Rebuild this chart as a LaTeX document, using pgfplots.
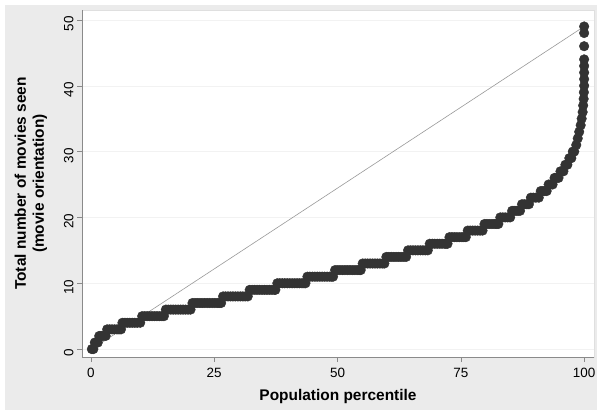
\documentclass[border=0pt]{standalone}
\usepackage{pgfplots}
\pgfplotsset{compat=1.18}
\usepackage{fontspec}
\setmainfont{Liberation Sans}
\definecolor{bggray}{HTML}{EBEBEB}
\definecolor{dots}{HTML}{333333}
\definecolor{axgray}{HTML}{8A8A8A}

\begin{document}
\begin{tikzpicture}[x=1bp,y=1bp]
% page background: thin white margin, light grey panel
\fill[white] (-82,-58) rectangle (520,357);
\fill[bggray] (-77,-53) rectangle (515,352);
\begin{axis}[
  at={(0,0)}, anchor=south west,
  width=512bp, height=347bp, scale only axis,
  xmin=-1.8, xmax=102, ymin=-1.2, ymax=51.5,
  axis x line*=bottom, axis y line*=left,
  axis line style={draw=axgray},
  axis background/.style={fill=white, draw=gray!25},
  xtick={0,25,50,75,100}, ytick={0,10,20,30,40,50},
  tick align=outside, major tick length=5bp,
  tick style={axgray},
  ymajorgrids, major grid style={gray!10},
  ticklabel style={font=\fontsize{13.5}{15}\selectfont},
  /pgf/number format/assume math mode=true,
  xticklabel style={yshift=-3bp},
  yticklabel style={rotate=90, anchor=south, xshift=-4bp},
  xlabel={\textbf{Population percentile}},
  ylabel={\textbf{Total number of movies seen}\\\textbf{(movie orientation)}},
  label style={font=\fontsize{15.5}{18}\selectfont, align=center},
  xlabel style={at={(axis description cs:0.5,-0.115)}, anchor=center},
  ylabel style={at={(axis description cs:-0.1,0.5)}, anchor=center},
  clip=false,
]
% quantile points (sorted values against percentile)
\addplot[only marks, mark=*, mark size=4.8bp, dots, mark options={draw=dots, fill=dots}] coordinates {
  (0.2,0) (0.5,0)
  (0.8,1) (1.1,1) (1.4,1)
  (1.7,2) (2.1,2) (2.5,2) (3.0,2)
  (3.3,3) (3.8,3) (4.3,3) (4.8,3) (5.3,3) (5.7,3) (6.1,3)
  (6.4,4) (6.9,4) (7.4,4) (7.9,4) (8.4,4) (8.9,4) (9.4,4) (10.0,4)
  (10.4,5) (10.9,5) (11.4,5) (11.9,5) (12.4,5) (12.9,5) (13.4,5) (13.9,5) (14.4,5) (14.8,5)
  (15.2,6) (15.7,6) (16.2,6) (16.7,6) (17.2,6) (17.7,6) (18.2,6) (18.7,6) (19.2,6) (19.7,6) (20.2,6)
  (20.6,7) (21.1,7) (21.6,7) (22.1,7) (22.6,7) (23.1,7) (23.6,7) (24.1,7) (24.6,7) (25.1,7) (25.6,7) (26.0,7) (26.4,7)
  (26.8,8) (27.3,8) (27.8,8) (28.3,8) (28.8,8) (29.3,8) (29.8,8) (30.3,8) (30.8,8) (31.3,8) (31.8,8)
  (32.2,9) (32.7,9) (33.2,9) (33.7,9) (34.2,9) (34.7,9) (35.2,9) (35.7,9) (36.2,9) (36.7,9) (37.2,9) (37.4,9)
  (37.8,10) (38.3,10) (38.8,10) (39.3,10) (39.8,10) (40.3,10) (40.8,10) (41.3,10) (41.8,10) (42.3,10) (42.8,10) (43.2,10) (43.5,10)
  (43.9,11) (44.4,11) (44.9,11) (45.4,11) (45.9,11) (46.4,11) (46.9,11) (47.4,11) (47.9,11) (48.4,11) (48.8,11) (49.1,11)
  (49.5,12) (50.0,12) (50.5,12) (51.0,12) (51.5,12) (52.0,12) (52.5,12) (53.0,12) (53.5,12) (54.0,12) (54.4,12) (54.7,12)
  (55.1,13) (55.6,13) (56.1,13) (56.6,13) (57.1,13) (57.6,13) (58.1,13) (58.6,13) (59.1,13) (59.5,13)
  (59.9,14) (60.4,14) (60.9,14) (61.4,14) (61.9,14) (62.4,14) (62.9,14) (63.4,14) (63.9,14)
  (64.3,15) (64.8,15) (65.3,15) (65.8,15) (66.3,15) (66.8,15) (67.3,15) (67.8,15) (68.3,15)
  (68.7,16) (69.2,16) (69.7,16) (70.2,16) (70.7,16) (71.2,16) (71.7,16) (72.0,16) (72.3,16)
  (72.7,17) (73.2,17) (73.7,17) (74.2,17) (74.7,17) (75.2,17) (75.6,17) (76.0,17)
  (76.4,18) (76.9,18) (77.4,18) (77.9,18) (78.4,18) (78.9,18) (79.4,18)
  (79.8,19) (80.3,19) (80.8,19) (81.3,19) (81.8,19) (82.2,19) (82.6,19)
  (83.0,20) (83.5,20) (84.0,20) (84.5,20) (85.0,20)
  (85.4,21) (85.8,21) (86.2,21) (86.6,21) (87.0,21)
  (87.4,22) (87.9,22) (88.4,22) (88.8,22)
  (89.2,23) (89.7,23) (90.2,23) (90.8,23)
  (91.2,24) (91.6,24) (92.0,24) (92.4,24)
  (92.8,25) (93.2,25) (93.6,25)
  (94.0,26) (94.4,26) (94.8,26)
  (95.2,27) (95.5,27) (95.8,27)
  (96.2,28) (96.6,28)
  (97.0,29) (97.4,29)
  (97.7,30) (98.0,30)
  (98.4,31) (98.7,32) (99.0,33) (99.3,34) (99.5,35) (99.7,36)
  (99.8,37) (99.9,38) (99.95,39) (100,40) (100,41) (100,42) (100,43) (100,44)
  (100,46) (100,48) (100,49)
};
% reference line from first to last quantile
\addplot[gray!80, line width=0.6pt] coordinates {(0.2,0) (100,49)};
\end{axis}
\end{tikzpicture}
\end{document}
